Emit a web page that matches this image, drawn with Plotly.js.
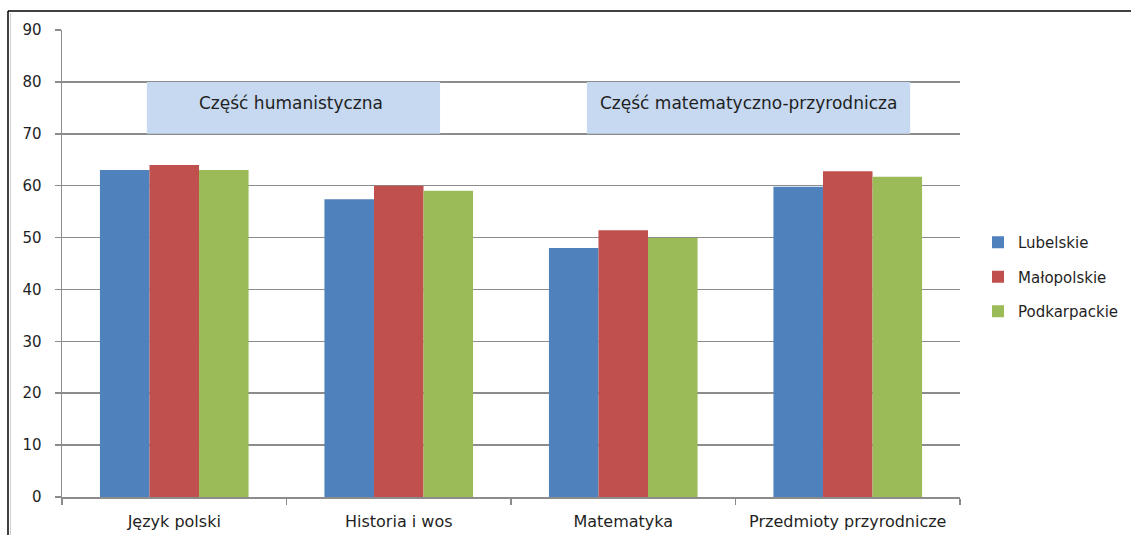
<!DOCTYPE html>
<html>
<head>
<meta charset="utf-8">
<script src="https://cdn.plot.ly/plotly-3.0.1.min.js"></script>
<style>
html,body{margin:0;padding:0;background:#fff;}
#chart{width:1131px;height:535px;}
</style>
</head>
<body>
<div id="chart"></div>
<script>
const categories = ["Język polski", "Historia i wos", "Matematyka", "Przedmioty przyrodnicze"];
const seriesNames = ["Lubelskie", "Małopolskie", "Podkarpackie"];
const lubelskie = [63.0, 57.4, 48.0, 59.8];
const malopolskie = [64.0, 60.0, 51.4, 62.8];
const podkarpackie = [63.0, 59.0, 49.9, 61.7];
const seriesValues = [lubelskie, malopolskie, podkarpackie];
const seriesColors = ["#4f81bd", "#c0504d", "#9bbb59"];
const sectionLabels = ["Część humanistyczna", "Część matematyczno-przyrodnicza"];
const yTicks = [0, 10, 20, 30, 40, 50, 60, 70, 80, 90];

const traces = seriesNames.map((name, i) => ({
  type: "bar",
  name: name,
  x: categories,
  y: seriesValues[i],
  legendgroup: "g" + i,
  marker: {color: seriesColors[i], line: {width: 0}},
  hoverinfo: "x+y+name"
}));

const W = 1131, H = 535;
const L = 62, R = 171, T = 30, B = 38;
const pw = W - L - R, ph = H - T - B;
const px = v => (v - L) / pw;
const py = v => (H - B - v) / ph;

const layout = {
  width: W, height: H,
  margin: {l: L, r: R, t: T, b: B, pad: 0, autoexpand: false},
  paper_bgcolor: "#ffffff",
  plot_bgcolor: "#ffffff",
  barmode: "group",
  bargap: 0.338,
  bargroupgap: 0,
  font: {family: "DejaVu Sans, sans-serif", size: 13, color: "#1f1f1f"},
  showlegend: true,
  legend: {
    x: px(978), xanchor: "left",
    y: py(277), yanchor: "middle",
    traceorder: "grouped",
    tracegroupgap: 12,
    itemwidth: 30,
    font: {family: "DejaVu Sans, sans-serif", size: 15, color: "#1f1f1f"},
    bgcolor: "rgba(0,0,0,0)"
  },
  xaxis: {
    type: "category",
    automargin: false,
    showgrid: false,
    showline: true, linecolor: "#8c8c8c", linewidth: 1.5,
    ticks: "outside", tickson: "boundaries", ticklen: 6, tickcolor: "#8c8c8c", tickwidth: 1.5,
    tickfont: {family: "DejaVu Sans, sans-serif", size: 16, color: "#1f1f1f"},
    ticklabelstandoff: 9,
    zeroline: false,
    fixedrange: true
  },
  yaxis: {
    range: [0, 90],
    automargin: false,
    tickvals: yTicks,
    ticktext: yTicks.map(String),
    showgrid: true, gridcolor: "#8c8c8c", gridwidth: 1.5,
    showline: true, linecolor: "#8c8c8c", linewidth: 1.5,
    ticks: "outside", ticklen: 6, tickcolor: "#8c8c8c", tickwidth: 1.5,
    tickfont: {family: "DejaVu Sans, sans-serif", size: 15, color: "#1f1f1f"},
    ticklabelstandoff: 10,
    zeroline: false,
    fixedrange: true
  },
  shapes: [
    {type: "rect", xref: "x", yref: "y", x0: -0.122, x1: 1.184, y0: 70, y1: 80,
     fillcolor: "#c6d9f1", line: {width: 0}, layer: "above"},
    {type: "rect", xref: "x", yref: "y", x0: 1.838, x1: 3.278, y0: 70, y1: 80,
     fillcolor: "#c6d9f1", line: {width: 0}, layer: "above"},
    {type: "line", xref: "paper", yref: "paper", x0: px(8), x1: px(8), y0: py(11), y1: py(545),
     line: {color: "#000", width: 1.5}},
    {type: "line", xref: "paper", yref: "paper", x0: px(8), x1: px(1140), y0: py(11), y1: py(11),
     line: {color: "#000", width: 1.5}},
    {type: "line", xref: "paper", yref: "paper", x0: px(10.5), x1: px(10.5), y0: py(13), y1: py(545),
     line: {color: "#d0d0d0", width: 1}}
  ],
  annotations: [
    {xref: "x", yref: "y", x: 0.52, y: 76, text: sectionLabels[0], showarrow: false,
     font: {family: "DejaVu Sans, sans-serif", size: 17, color: "#1f1f1f"}},
    {xref: "x", yref: "y", x: 2.558, y: 76, text: sectionLabels[1], showarrow: false,
     font: {family: "DejaVu Sans, sans-serif", size: 17, color: "#1f1f1f"}}
  ]
};

Plotly.newPlot("chart", traces, layout, {displayModeBar: false, staticPlot: true});
</script>
</body>
</html>
